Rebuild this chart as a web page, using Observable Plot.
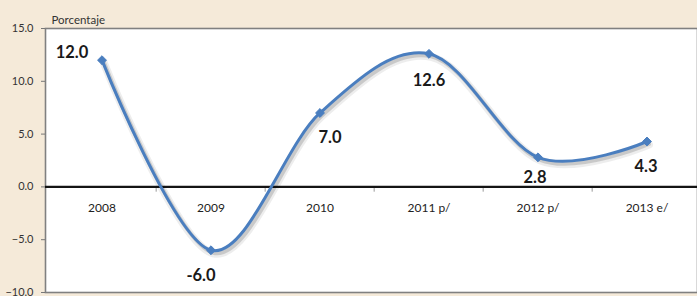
<!DOCTYPE html>
<html>
<head>
<meta charset="utf-8">
<script src="https://cdn.jsdelivr.net/npm/d3@7"></script>
<script src="https://cdn.jsdelivr.net/npm/@observablehq/plot@0.6"></script>
<style>
  html, body { margin: 0; padding: 0; background: #F5EAD9; }
  #chart svg { display: block; }
</style>
</head>
<body>
<div id="chart"></div>
<script>
// Data
const categories = ["2008", "2009", "2010", "2011 p/", "2012 p/", "2013 e/"];
const values = [12.0, -6.0, 7.0, 12.6, 2.8, 4.3];
const yTicks = [-10, -5, 0, 5, 10, 15];
const axisTitle = "Porcentaje";

// Label placement (layout only)
const labelOffsets = [[-30, -7], [-10, 25], [10, 25], [0, 27], [-3, 20], [-1, 25]];

const data = categories.map((c, i) => ({c, v: values[i]}));

const xRange = [45, 703];
const halfBand = (xRange[1] - xRange[0]) / categories.length / 2;
const blue = "#4A7EBF";

const marks = [
  Plot.frame({fill: "white", stroke: "#808080", strokeWidth: 1.6}),
  Plot.axisY(yTicks, {anchor: "left", tickSize: 4, tickPadding: 8, tickFormat: d3.format(".1f"),
    fontSize: 11, fill: "#333", stroke: "#777", label: null}),
  Plot.text([axisTitle], {frameAnchor: "top-left", textAnchor: "start", dx: 6, dy: -13, fontSize: 11.5, fill: "#333"}),
  Plot.ruleX(categories.slice(1), {x: d => d, y1: 0, y2: -0.5, dx: -halfBand, stroke: "#999", strokeWidth: 1}),
  Plot.ruleY([0], {stroke: "#141414", strokeWidth: 2.4}),
  Plot.text(categories, {x: d => d, y: 0, dy: 21, fontSize: 12, fill: "#222"}),
  Plot.line(data, {x: "c", y: "v", curve: "cardinal", stroke: "#000", strokeOpacity: 0.07, strokeWidth: 8, dx: 2, dy: 3}),
  Plot.line(data, {x: "c", y: "v", curve: "cardinal", stroke: "#000", strokeOpacity: 0.15, strokeWidth: 4, dx: 2, dy: 2.5}),
  Plot.line(data, {x: "c", y: "v", curve: "cardinal", stroke: blue, strokeWidth: 3}),
  Plot.dot(data, {x: "c", y: "v", symbol: "diamond2", r: 4, fill: blue, stroke: blue, strokeWidth: 1})
];

data.forEach((d, i) => {
  marks.push(Plot.text([d], {x: "c", y: "v", text: e => e.v.toFixed(1), dx: labelOffsets[i][0], dy: labelOffsets[i][1],
    fontSize: 16.5, fontWeight: "bold", fill: "#1a1a1a"}));
});

const chart = Plot.plot({
  width: 697,
  height: 296,
  marginLeft: 45,
  marginRight: 0,
  marginTop: 28,
  marginBottom: 4,
  style: {background: "transparent", fontFamily: "Lato, 'Open Sans', sans-serif"},
  x: {type: "band", domain: categories, range: xRange, padding: 0, axis: null},
  y: {domain: [-10, 15], range: [292, 28]},
  marks
});
document.getElementById("chart").appendChild(chart);
</script>
</body>
</html>
